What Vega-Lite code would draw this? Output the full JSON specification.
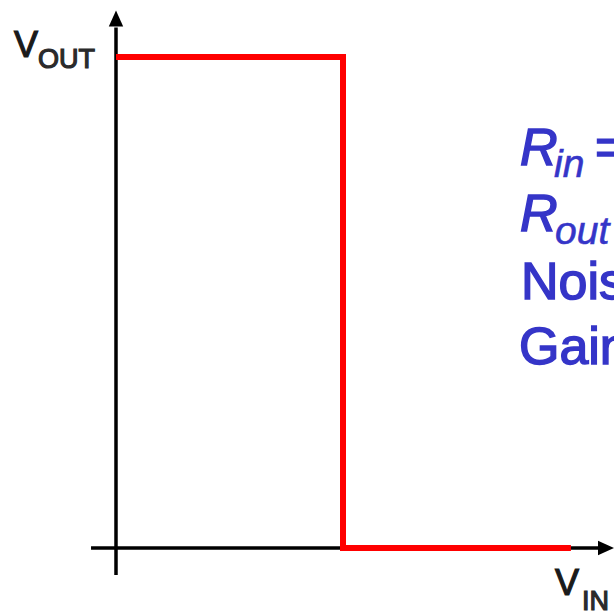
{
  "$schema": "https://vega.github.io/schema/vega-lite/v6.json",
  "width": 614,
  "height": 612,
  "padding": 0,
  "autosize": {"type": "none"},
  "background": "white",
  "config": {"view": {"stroke": null}},
  "encoding": {
    "x": {"field": "x", "type": "quantitative", "scale": {"domain": [-0.511, 2.1938], "nice": false, "zero": false}, "axis": null},
    "y": {"field": "y", "type": "quantitative", "scale": {"domain": [-0.13035, 1.11609], "nice": false, "zero": false}, "axis": null}
  },
  "layer": [
    {
      "data": {"values": [
        {"axis": "V_IN", "x": -0.11, "y": 0, "x2": 2.135, "y2": 0},
        {"axis": "V_OUT", "x": 0, "y": -0.055, "x2": 0, "y2": 1.06}
      ]},
      "mark": {"type": "rule", "color": "black", "strokeWidth": 3.5, "strokeCap": "butt"},
      "encoding": {"x2": {"field": "x2"}, "y2": {"field": "y2"}}
    },
    {
      "data": {"values": [{"axis": "V_OUT", "x": 0, "y": 1.0784}]},
      "mark": {"type": "point", "shape": "M0,-1L0.9,1L-0.9,1Z", "filled": true, "color": "black", "opacity": 1, "size": 256},
      "encoding": {}
    },
    {
      "data": {"values": [{"axis": "V_IN", "x": 2.1586, "y": 0}]},
      "mark": {"type": "point", "shape": "M1,0L-1,0.9L-1,-0.9Z", "filled": true, "color": "black", "opacity": 1, "size": 256},
      "encoding": {}
    },
    {
      "data": {"values": [
        {"o": 1, "x": 0, "y": 1},
        {"o": 2, "x": 1, "y": 1},
        {"o": 3, "x": 1, "y": 0},
        {"o": 4, "x": 2.004, "y": 0}
      ]},
      "mark": {"type": "line", "color": "#ff0000", "strokeWidth": 6, "strokeJoin": "miter", "strokeCap": "butt"},
      "encoding": {"order": {"field": "o", "type": "quantitative"}}
    },
    {
      "data": {"values": [
        {"t": "V", "x": -0.449, "y": 1.0},
        {"t": "V", "x": 1.934, "y": -0.0957}
      ]},
      "mark": {"type": "text", "align": "left", "baseline": "alphabetic", "font": "Liberation Sans", "fontSize": 36, "color": "#1a1a1a", "stroke": "#1a1a1a", "strokeWidth": 1.2},
      "encoding": {"text": {"field": "t"}}
    },
    {
      "data": {"values": [
        {"t": "OUT", "x": -0.344, "y": 0.9776},
        {"t": "IN", "x": 2.053, "y": -0.1263}
      ]},
      "mark": {"type": "text", "align": "left", "baseline": "alphabetic", "font": "Liberation Sans", "fontSize": 27, "color": "#2a2a2a", "stroke": "#2a2a2a", "strokeWidth": 1.2},
      "encoding": {"text": {"field": "t"}}
    },
    {
      "data": {"values": [
        {"t": "R", "x": 1.78, "y": 0.78},
        {"t": "R", "x": 1.78, "y": 0.6456}
      ]},
      "mark": {"type": "text", "align": "left", "baseline": "alphabetic", "font": "Liberation Sans", "fontStyle": "italic", "fontSize": 52, "color": "#3535c8", "stroke": "#3535c8", "strokeWidth": 1.5},
      "encoding": {"text": {"field": "t"}}
    },
    {
      "data": {"values": [
        {"t": "in", "x": 1.93, "y": 0.7556},
        {"t": "out", "x": 1.934, "y": 0.6191}
      ]},
      "mark": {"type": "text", "align": "left", "baseline": "alphabetic", "font": "Liberation Sans", "fontStyle": "italic", "fontSize": 39, "color": "#3535c8", "stroke": "#3535c8", "strokeWidth": 0.6},
      "encoding": {"text": {"field": "t"}}
    },
    {
      "data": {"values": [
        {"t": "=", "x": 2.11, "y": 0.78},
        {"t": "Noise", "x": 1.784, "y": 0.5071},
        {"t": "Gain", "x": 1.775, "y": 0.3747}
      ]},
      "mark": {"type": "text", "align": "left", "baseline": "alphabetic", "font": "Liberation Sans", "fontSize": 52, "color": "#3535c8", "stroke": "#3535c8", "strokeWidth": 1.5},
      "encoding": {"text": {"field": "t"}}
    }
  ]
}
